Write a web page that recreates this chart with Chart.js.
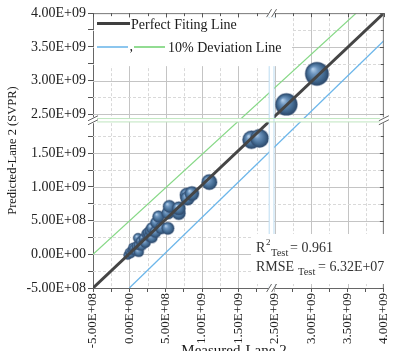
<!DOCTYPE html>
<html>
<head>
<meta charset="utf-8">
<script src="https://cdn.jsdelivr.net/npm/chart.js@4.4.1/dist/chart.umd.min.js"></script>
<style>
  html, body { margin: 0; padding: 0; background: #fff; overflow: hidden; width: 397px; height: 351px; }
  canvas { display: block; }
</style>
</head>
<body>
<canvas id="c" width="397" height="362"></canvas>
<script>
// Lane 2: measured values against SVPR predictions (test set)
const measured = [
  -2.0e7, 0, 2.0e7, 4.0e7, 5.0e7, 6.5e7, 9.0e7, 1.0e8, 1.3e8, 1.3e8,
  1.2e8, 1.6e8, 1.7e8, 2.0e8, 2.2e8, 2.4e8, 2.6e8, 2.8e8, 3.1e8, 2.9e8,
  3.1e8, 3.6e8, 3.7e8, 4.0e8, 4.4e8, 5.3e8, 5.3e8, 5.5e8, 6.8e8, 6.8e8,
  7.9e8, 8.0e8, 8.6e8, 1.10e9, 1.68e9, 1.79e9, 2.66e9, 3.08e9
];
const predicted = [
  -1.5e7, 3.0e7, 1.0e7, 6.0e7, 1.0e8, 8.0e7, 5.0e7, 1.2e8, 3.5e7, 1.35e8,
  2.4e8, 1.9e8, 1.3e8, 2.3e8, 1.75e8, 3.0e8, 3.2e8, 2.7e8, 2.5e8, 3.5e8,
  3.9e8, 3.3e8, 4.7e8, 5.6e8, 3.9e8, 3.85e8, 6.1e8, 7.1e8, 6.1e8, 6.8e8,
  8.8e8, 8.3e8, 9.0e8, 1.07e9, 1.70e9, 1.72e9, 2.645e9, 3.10e9
];

// Reference lines, as [measured, predicted] end points
const perfectFitLine = [[-5e8, -5e8], [4.0e9, 4.0e9]];
const upperDeviationLine = [[-5e8, 0], [3.62e9, 4.0e9]];
const lowerDeviationLine = [[0, -5e8], [4.0e9, 3.59e9]];

// Tick values (labelled ones are listed as major)
const xTicks = [-5e8, -2.5e8, 0, 2.5e8, 5e8, 7.5e8, 1e9, 1.25e9, 1.5e9, 1.75e9,
                2.5e9, 2.75e9, 3e9, 3.25e9, 3.5e9, 3.75e9, 4e9];
const xMajor = [-5e8, 0, 5e8, 1e9, 1.5e9, 2.5e9, 3e9, 3.5e9, 4e9];
const yTicks = [-5e8, -2.5e8, 0, 2.5e8, 5e8, 7.5e8, 1e9, 1.25e9, 1.5e9, 1.75e9,
                2.5e9, 2.75e9, 3e9, 3.25e9, 3.5e9, 3.75e9, 4e9];
const yMajor = [-5e8, 0, 5e8, 1e9, 1.5e9, 2.5e9, 3e9, 3.5e9, 4e9];

const r2Test = '0.961';
const rmseTest = '6.32E+07';

// Broken axes: values above the cut are shifted down onto the compressed scale
const X_CUT = 2.2e9, X_SHIFT = 5.0e8;
const Y_CUT = 2.2e9, Y_SHIFT = 4.22e8;
const bx = v => (v < X_CUT ? v : v - X_SHIFT);
const by = v => (v < Y_CUT ? v : v - Y_SHIFT);
// gap between the two pieces of each axis (in real units)
const X_GAP = [1.923e9, 2.489e9];
const Y_GAP = [1.964e9, 2.436e9];

function sci(v) {
  if (v === 0) return '0.00E+00';
  const e = Math.floor(Math.log10(Math.abs(v)));
  const m = (v / Math.pow(10, e)).toFixed(2);
  return m + 'E' + (e < 0 ? '-' : '+') + String(Math.abs(e)).padStart(2, '0');
}

const bubbleRadius = x => 4.2 + 3.2 * Math.pow(Math.max(x, 0) / 1e9, 0.75);

const bubbles = measured.map((m, i) => ({ x: bx(m), y: by(predicted[i]), r: bubbleRadius(m) }));
const toLine = pts => pts.map(([x, y]) => ({ x: bx(x), y: by(y) }));

function sphere(ctx) {
  const chart = ctx.chart, raw = ctx.raw;
  if (!raw || !chart.chartArea || !chart.scales.x) return '#4d74a0';
  const px = chart.scales.x.getPixelForValue(raw.x);
  const py = chart.scales.y.getPixelForValue(raw.y);
  const r = raw.r;
  const g = chart.ctx.createRadialGradient(px - r * 0.35, py - r * 0.4, r * 0.05, px, py, r);
  g.addColorStop(0, '#aecbe8');
  g.addColorStop(0.3, '#6b93bd');
  g.addColorStop(0.72, '#41688f');
  g.addColorStop(1, '#2b4768');
  return g;
}

const tickObjs = (list, major, map) => list.map(v => ({ value: map(v), real: v, minor: !major.includes(v) }));

const SERIF = "'Liberation Serif', 'DejaVu Serif', serif";
Chart.defaults.font.family = SERIF;
Chart.defaults.color = '#222';

// grid lines: solid at labelled ticks, dashed in between
const grid = {
  id: 'grid',
  beforeDatasetsDraw(chart) {
    const { ctx, chartArea: a, scales: { x, y } } = chart;
    ctx.save();
    ctx.lineWidth = 1;
    const stroke = (minor, draw) => {
      ctx.strokeStyle = minor ? '#d9d9d9' : '#c4c4c4';
      ctx.setLineDash(minor ? [3, 2] : []);
      ctx.beginPath(); draw(); ctx.stroke();
    };
    x.ticks.forEach(t => {
      const px = Math.round(x.getPixelForValue(t.value)) + 0.5;
      if (px < a.left + 1 || px > a.right - 1) return;
      stroke(t.minor, () => { ctx.moveTo(px, a.top); ctx.lineTo(px, a.bottom); });
    });
    y.ticks.forEach(t => {
      const py = Math.round(y.getPixelForValue(t.value)) + 0.5;
      if (py < a.top + 1 || py > a.bottom - 1) return;
      stroke(t.minor, () => { ctx.moveTo(a.left, py); ctx.lineTo(a.right, py); });
    });
    ctx.restore();
  }
};

const overlay = {
  id: 'overlay',
  afterDraw(chart) {
    const { ctx, chartArea: a, scales: { x, y } } = chart;
    const gx0 = x.getPixelForValue(bx(X_GAP[0])), gx1 = x.getPixelForValue(bx(X_GAP[1]));
    const gy0 = y.getPixelForValue(by(Y_GAP[0])), gy1 = y.getPixelForValue(by(Y_GAP[1]));
    ctx.save();

    // gaps of the broken axes
    ctx.fillStyle = '#fff';
    ctx.fillRect(gx0, a.top - 1, gx1 - gx0, a.bottom - a.top + 2);
    ctx.fillRect(a.left - 2, gy1, a.right - a.left + 4, gy0 - gy1);
    ctx.lineWidth = 1;
    ctx.strokeStyle = '#bcdcf2';
    [gx0, gx1].forEach(px => {
      ctx.beginPath(); ctx.moveTo(px, a.top); ctx.lineTo(px, a.bottom); ctx.stroke();
    });
    ctx.strokeStyle = '#bfe6bf';
    [gy0, gy1].forEach(py => {
      ctx.beginPath(); ctx.moveTo(a.left, py); ctx.lineTo(a.right, py); ctx.stroke();
    });

    // top and right frame with inward ticks
    ctx.strokeStyle = '#777';
    ctx.beginPath();
    ctx.moveTo(a.left, a.top + 0.5); ctx.lineTo(a.right, a.top + 0.5);
    ctx.moveTo(a.right - 0.5, a.top); ctx.lineTo(a.right - 0.5, a.bottom);
    ctx.stroke();
    ctx.strokeStyle = '#555';
    ctx.beginPath();
    x.ticks.forEach(t => {
      const px = Math.round(x.getPixelForValue(t.value)) + 0.5;
      ctx.moveTo(px, a.top); ctx.lineTo(px, a.top + (t.minor ? 3 : 4));
    });
    y.ticks.forEach(t => {
      const py = Math.round(y.getPixelForValue(t.value)) + 0.5;
      ctx.moveTo(a.right, py); ctx.lineTo(a.right - (t.minor ? 3 : 4), py);
    });
    ctx.stroke();

    // break marks on the axes
    const slashH = (cx, cy) => {
      ctx.fillStyle = '#fff';
      ctx.fillRect(cx - 3, cy - 4, 6, 8);
      ctx.strokeStyle = '#666';
      ctx.beginPath();
      [-2.5, 2.5].forEach(d => { ctx.moveTo(cx + d - 2.5, cy + 4); ctx.lineTo(cx + d + 2.5, cy - 4); });
      ctx.stroke();
    };
    const slashV = (cx, cy) => {
      ctx.fillStyle = '#fff';
      ctx.fillRect(cx - 4, cy - 3, 8, 6);
      ctx.strokeStyle = '#666';
      ctx.beginPath();
      [-2, 2].forEach(d => { ctx.moveTo(cx - 5, cy + d + 2.5); ctx.lineTo(cx + 5, cy + d - 2.5); });
      ctx.stroke();
    };
    const gxm = (gx0 + gx1) / 2, gym = (gy0 + gy1) / 2;
    slashH(gxm, a.bottom);
    slashH(gxm, a.top);
    slashV(a.left, gym);
    slashV(a.right, gym);

    // legend
    ctx.fillStyle = '#fff';
    ctx.fillRect(a.left + 1, a.top + 5, 198, 48);
    ctx.lineCap = 'butt';
    ctx.strokeStyle = '#3f3f3f'; ctx.lineWidth = 3;
    ctx.beginPath(); ctx.moveTo(97, 23.5); ctx.lineTo(130, 23.5); ctx.stroke();
    ctx.lineWidth = 2;
    ctx.strokeStyle = '#8cc6ee';
    ctx.beginPath(); ctx.moveTo(97, 47); ctx.lineTo(128, 47); ctx.stroke();
    ctx.strokeStyle = '#92dc92';
    ctx.beginPath(); ctx.moveTo(134, 47); ctx.lineTo(165, 47); ctx.stroke();
    ctx.fillStyle = '#1a1a1a';
    ctx.font = '14px ' + SERIF;
    ctx.textBaseline = 'alphabetic';
    ctx.textAlign = 'left';
    ctx.fillText('Perfect Fiting Line', 131, 28.5);
    ctx.fillText(',', 129.5, 51);
    ctx.fillText('10% Deviation Line', 168, 51.5);

    // test statistics
    ctx.fillStyle = '#fff';
    ctx.fillRect(251, 234, 146, 50);
    ctx.fillStyle = '#333';
    ctx.font = '14px ' + SERIF;
    ctx.fillText('R', 256, 252);
    ctx.font = '9px ' + SERIF;
    ctx.fillText('2', 266, 245);
    ctx.font = '10.5px ' + SERIF;
    ctx.fillText('Test', 271, 256);
    ctx.font = '14px ' + SERIF;
    ctx.fillText('= ' + r2Test, 290, 252);
    ctx.fillText('RMSE', 256, 271);
    ctx.font = '10.5px ' + SERIF;
    ctx.fillText('Test', 298, 275);
    ctx.font = '14px ' + SERIF;
    ctx.fillText('= ' + rmseTest, 318, 271);

    // x axis title
    ctx.fillStyle = '#1a1a1a';
    ctx.font = '15px ' + SERIF;
    ctx.textAlign = 'center';
    ctx.fillText('Measured-Lane 2', 234, 355);
    ctx.restore();
  }
};

const lineStyle = (data, color, width) => ({
  type: 'line', data, borderColor: color, borderWidth: width,
  pointRadius: 0, fill: false, tension: 0, order: 0
});

new Chart(document.getElementById('c'), {
  type: 'bubble',
  data: {
    datasets: [
      lineStyle(toLine(perfectFitLine), '#454545', 3),
      lineStyle(toLine(upperDeviationLine), '#86d886', 1.3),
      lineStyle(toLine(lowerDeviationLine), '#6cb6ea', 1.3),
      {
        type: 'bubble', data: bubbles, order: 1,
        backgroundColor: sphere,
        borderColor: 'rgba(60,88,125,0.4)',
        borderWidth: 1.5
      }
    ]
  },
  options: {
    responsive: false,
    animation: false,
    events: [],
    layout: { padding: { left: 0, top: 6, right: 1, bottom: 0 } },
    plugins: { legend: { display: false }, tooltip: { enabled: false } },
    scales: {
      x: {
        type: 'linear', bounds: 'data',
        min: bx(-5e8), max: bx(4e9),
        afterBuildTicks: s => { s.ticks = tickObjs(xTicks, xMajor, bx); },
        afterFit: s => { s.height = 74; s.paddingLeft = 0; s.paddingRight = 0; s.paddingTop = 0; s.paddingBottom = 0; },
        ticks: {
          autoSkip: false, minRotation: 90, maxRotation: 90, padding: 1,
          font: { size: 13 }, color: '#222',
          callback: (v, i, ticks) => (ticks[i].minor ? '' : sci(ticks[i].real))
        },
        grid: { drawOnChartArea: false, tickColor: '#555', tickLength: 4 },
        border: { color: '#666', width: 1 }
      },
      y: {
        type: 'linear', bounds: 'data',
        min: by(-5e8), max: by(4e9),
        afterBuildTicks: s => { s.ticks = tickObjs(yTicks, yMajor, by); },
        afterFit: s => { s.width = 93; s.paddingLeft = 0; s.paddingRight = 0; s.paddingTop = 0; s.paddingBottom = 0; },
        ticks: {
          autoSkip: false, padding: 2,
          font: { size: 14 }, color: '#222',
          callback: (v, i, ticks) => (ticks[i].minor ? '' : sci(ticks[i].real))
        },
        title: {
          display: true, text: 'Predicted-Lane 2 (SVPR)',
          font: { size: 12.5 }, color: '#1a1a1a', padding: { top: 5, bottom: 0 }
        },
        grid: { drawOnChartArea: false, tickColor: '#555', tickLength: 5 },
        border: { color: '#666', width: 1 }
      }
    }
  },
  plugins: [grid, overlay]
});
</script>
</body>
</html>
